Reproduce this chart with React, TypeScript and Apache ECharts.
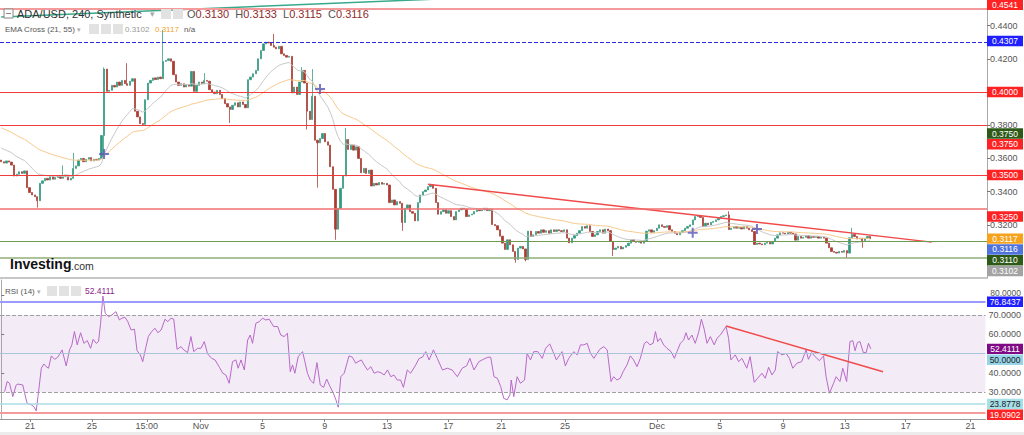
import React, { useEffect, useRef } from 'react';
import * as echarts from 'echarts';

// ---- time slots (4h candles) ----
const SLOT_COUNT = 384;
const xTickSlots = [11.2, 35.3, 56.7, 77.7, 101.8, 126, 150.3, 174.2, 194.8, 219.7, 255.5, 280, 304.6, 328.7, 352.4, 377.7];
const xTickLabels = ['21', '25', '15:00', 'Nov', '5', '9', '13', '17', '21', '25', 'Dec', '5', '9', '13', '17', '21'];

// ---- price data (closes; open = previous close) ----
const firstOpen = 0.359;
const closes = [
  0.3580, 0.3572, 0.3585, 0.3578, 0.3560, 0.3494, 0.3505, 0.3520, 0.3510, 0.3525,
  0.3424, 0.3395, 0.3380, 0.3370, 0.3345, 0.3450, 0.3465, 0.3480, 0.3470, 0.3490,
  0.3475, 0.3485, 0.3495, 0.3480, 0.3490, 0.3500, 0.3470, 0.3480, 0.3540, 0.3555,
  0.3590, 0.3600, 0.3580, 0.3595, 0.3605, 0.3585, 0.3595, 0.3590, 0.3600, 0.3738,
  0.4138, 0.4004, 0.4010, 0.4040, 0.4030, 0.4060, 0.4040, 0.4070, 0.4050, 0.4040,
  0.4065, 0.4080, 0.3884, 0.3850, 0.3810, 0.3805, 0.3954, 0.4054, 0.4070, 0.4085,
  0.4075, 0.4090, 0.4080, 0.4184, 0.4190, 0.4200, 0.4185, 0.4104, 0.4060, 0.4040,
  0.4050, 0.4030, 0.4045, 0.4035, 0.4124, 0.4004, 0.4040, 0.4060, 0.4050, 0.4070,
  0.4065, 0.4014, 0.4000, 0.3990, 0.4010, 0.3985, 0.3960, 0.3930, 0.3910, 0.3895,
  0.3920, 0.3935, 0.3910, 0.3940, 0.3925, 0.3905, 0.4074, 0.4090, 0.4110, 0.4130,
  0.4200, 0.4250, 0.4290, 0.4300, 0.4295, 0.4280, 0.4270, 0.4260, 0.4275, 0.4230,
  0.4220, 0.4210, 0.4215, 0.3994, 0.4030, 0.3985, 0.4060, 0.4130, 0.4054, 0.3884,
  0.3834, 0.3974, 0.3710, 0.3694, 0.3720, 0.3750, 0.3700, 0.3680, 0.3550, 0.3414,
  0.3174, 0.3300, 0.3420, 0.3494, 0.3714, 0.3654, 0.3680, 0.3650, 0.3670, 0.3600,
  0.3514, 0.3540, 0.3510, 0.3530, 0.3434, 0.3450, 0.3440, 0.3455, 0.3445, 0.3450,
  0.3440, 0.3334, 0.3350, 0.3320, 0.3340, 0.3330, 0.3214, 0.3300, 0.3320, 0.3280,
  0.3270, 0.3224, 0.3334, 0.3380, 0.3400, 0.3410, 0.3430, 0.3440, 0.3420, 0.3334,
  0.3264, 0.3280, 0.3290, 0.3270, 0.3285, 0.3250, 0.3230, 0.3280, 0.3290, 0.3300,
  0.3295, 0.3250, 0.3260, 0.3265, 0.3280, 0.3290, 0.3285, 0.3290, 0.3300, 0.3285,
  0.3295, 0.3202, 0.3195, 0.3170, 0.3132, 0.3090, 0.3052, 0.3110, 0.3080, 0.3040,
  0.2992, 0.3060, 0.3070, 0.3055, 0.2992, 0.3162, 0.3130, 0.3140, 0.3160, 0.3150,
  0.3170, 0.3155, 0.3165, 0.3150, 0.3170, 0.3160, 0.3170, 0.3165, 0.3160, 0.3170,
  0.3120, 0.3092, 0.3120, 0.3135, 0.3150, 0.3165, 0.3190, 0.3180, 0.3195, 0.3160,
  0.3130, 0.3140, 0.3160, 0.3170, 0.3150, 0.3175, 0.3165, 0.3100, 0.3052, 0.3060,
  0.3070, 0.3055, 0.3065, 0.3075, 0.3090, 0.3110, 0.3100, 0.3095, 0.3100, 0.3090,
  0.3105, 0.3162, 0.3170, 0.3155, 0.3165, 0.3180, 0.3200, 0.3190, 0.3185, 0.3195,
  0.3170, 0.3160, 0.3150, 0.3140, 0.3155, 0.3165, 0.3180, 0.3190, 0.3200, 0.3230,
  0.3250, 0.3255, 0.3245, 0.3190, 0.3210, 0.3200, 0.3215, 0.3220, 0.3230, 0.3240,
  0.3250, 0.3255, 0.3260, 0.3172, 0.3180, 0.3190, 0.3180, 0.3185, 0.3175, 0.3190,
  0.3180, 0.3170, 0.3160, 0.3082, 0.3090, 0.3085, 0.3080, 0.3090, 0.3095, 0.3085,
  0.3100, 0.3120, 0.3140, 0.3152, 0.3150, 0.3145, 0.3155, 0.3150, 0.3145, 0.3108,
  0.3130, 0.3120, 0.3125, 0.3135, 0.3120, 0.3130, 0.3125, 0.3130, 0.3120, 0.3125,
  0.3120, 0.3090, 0.3062, 0.3040, 0.3035, 0.3030, 0.3040, 0.3035, 0.3045, 0.3030,
  0.3122, 0.3142, 0.3130, 0.3115, 0.3120, 0.3105, 0.3120, 0.3130, 0.3116,
];
// visible wicks: [slot, low, high]
const wicks: [number, number | null, number | null][] = [
  [14, 0.3304, null], [24, null, 0.3558], [28, null, 0.3634], [40, 0.36, 0.4148],
  [49, null, 0.4174], [55, 0.3795, null], [63, null, 0.4374], [79, null, 0.4114],
  [89, 0.3814, null], [106, null, 0.435], [117, null, 0.415], [119, 0.3774, null],
  [121, null, 0.4138], [123, 0.3424, null], [130, 0.311, null], [134, null, 0.3784],
  [156, 0.3164, null], [200, 0.2972, null], [204, 0.298, null], [238, 0.3012, null],
  [283, null, 0.3282], [329, 0.3002, null], [331, null, 0.3182], [335, 0.3062, null],
  [338, 0.3115, 0.3133],
];
const ema21Seed = 0.3663;
const ema55Seed = 0.3785;
const crossPoints = [[40, 0.3626], [124, 0.4018], [269, 0.3152], [294, 0.3175]];
const priceTrend = [[166, 0.3444], [362, 0.3096]];
const tealTrend = [[0, 0.4452], [170, 0.456]];
const priceTicks = [0.44, 0.42, 0.4, 0.38, 0.36, 0.34, 0.32];

// ---- RSI (14): [slot, value] ----
const rsiPoints: [number, number][] = [
  [1.3, 30.3], [2.3, 35.5], [3.2, 34.6], [4.5, 27.7], [5.8, 33.7], [6.5, 34.2], [8.4, 33.7], [9.1, 29.4],
  [10.1, 24.2], [11.7, 23.4], [12.7, 22.5], [13.6, 20.3], [14.3, 27.7], [15.6, 42.4], [16.6, 44.6], [17.5, 43.2],
  [18.4, 42.4], [19.5, 48.8], [20.8, 47.0], [22.0, 48.1], [23.7, 51.9], [25.3, 43.6], [26.6, 51.9], [27.5, 54.5],
  [28.5, 61.4], [29.6, 54.5], [30.9, 60.8], [32.2, 55.3], [33.5, 56.7], [34.8, 52.7], [35.8, 57.4], [37.0, 55.3],
  [37.9, 56.2], [38.7, 65.7], [39.6, 79.8], [40.5, 70.9], [41.8, 69.1], [43.1, 70.0], [44.7, 71.7], [46.0, 67.4],
  [47.0, 68.3], [48.2, 68.8], [49.3, 66.5], [50.6, 62.2], [51.9, 62.6], [52.9, 51.5], [54.2, 49.3], [55.1, 45.8],
  [56.4, 53.6], [57.3, 58.8], [58.6, 61.4], [59.9, 63.1], [61.0, 60.8], [62.3, 62.2], [63.8, 67.8], [64.9, 66.5],
  [66.1, 68.3], [67.2, 67.8], [68.5, 52.2], [70.0, 53.6], [71.1, 51.9], [72.6, 50.5], [73.9, 58.8], [75.0, 51.0],
  [76.5, 52.7], [77.8, 52.7], [79.1, 56.2], [80.4, 49.8], [82.0, 47.5], [83.3, 46.7], [85.0, 42.9], [86.3, 39.8],
  [87.5, 38.9], [88.8, 34.6], [90.1, 45.8], [91.4, 46.7], [92.3, 42.4], [93.4, 46.7], [94.7, 41.5], [96.0, 57.0],
  [97.0, 59.6], [97.9, 55.3], [99.2, 65.7], [100.5, 66.5], [101.8, 68.3], [103.1, 67.4], [104.4, 67.8], [106.1, 64.0],
  [107.7, 64.0], [108.9, 59.6], [110.2, 58.8], [111.5, 60.5], [112.6, 40.6], [113.5, 44.1], [114.4, 39.8], [115.7, 48.4],
  [117.4, 51.0], [118.3, 45.8], [119.3, 39.8], [120.4, 36.3], [121.7, 34.6], [123.0, 45.3], [124.3, 33.7], [125.6, 32.5],
  [126.8, 36.8], [128.1, 32.9], [129.4, 29.4], [130.4, 26.0], [131.3, 22.2], [132.3, 38.0], [133.6, 39.8], [135.5, 48.8],
  [136.8, 48.1], [138.1, 45.0], [139.0, 45.8], [140.3, 46.7], [141.4, 44.1], [142.7, 41.5], [144.0, 43.2], [145.3, 39.8],
  [146.6, 40.6], [147.9, 40.1], [149.2, 38.9], [150.5, 41.5], [151.8, 38.0], [153.0, 38.9], [154.3, 36.3], [155.6, 36.3],
  [156.7, 32.5], [158.2, 41.5], [159.5, 39.8], [161.5, 44.1], [162.8, 47.5], [164.1, 48.1], [165.4, 51.0], [166.7, 46.7],
  [168.4, 51.9], [169.9, 47.5], [171.9, 41.5], [173.8, 42.4], [175.7, 41.5], [177.7, 38.0], [179.6, 42.4], [181.3, 43.6],
  [182.6, 47.5], [184.2, 41.5], [186.1, 45.8], [187.8, 47.0], [189.6, 48.1], [190.7, 48.1], [192.0, 38.0], [193.3, 37.2],
  [194.6, 32.9], [195.8, 26.8], [197.1, 26.0], [198.2, 28.5], [198.7, 36.3], [199.7, 27.7], [201.0, 38.0], [202.3, 34.6],
  [203.9, 36.3], [204.9, 50.1], [206.2, 46.7], [207.5, 51.0], [209.1, 51.0], [210.8, 47.5], [212.1, 52.7], [213.7, 55.0],
  [215.0, 51.0], [216.3, 46.7], [218.5, 51.0], [219.8, 43.6], [221.1, 47.5], [223.1, 51.0], [224.4, 49.3], [225.7, 54.5],
  [227.0, 54.5], [228.3, 55.3], [229.6, 50.1], [230.9, 47.5], [233.2, 52.2], [234.8, 53.6], [236.1, 51.9], [237.6, 35.5],
  [238.6, 38.0], [239.9, 36.3], [241.2, 37.2], [242.3, 40.6], [243.8, 44.1], [245.1, 48.8], [246.4, 46.7], [247.7, 43.2],
  [249.0, 47.5], [250.6, 55.3], [251.6, 56.2], [252.7, 54.5], [254.0, 55.3], [254.9, 61.4], [255.8, 56.2], [256.8, 57.9],
  [258.1, 54.5], [259.4, 52.7], [261.0, 51.0], [262.3, 47.5], [263.3, 51.0], [264.6, 55.3], [265.9, 57.0], [266.8, 60.8],
  [267.8, 57.0], [269.1, 59.6], [270.4, 55.3], [271.7, 60.8], [272.8, 67.8], [273.9, 62.6], [275.0, 55.3], [276.3, 58.8],
  [277.8, 54.5], [278.9, 57.9], [280.2, 59.6], [281.5, 62.2], [282.4, 64.0], [283.4, 57.9], [284.3, 46.7], [286.0, 49.3],
  [287.3, 45.8], [288.6, 47.5], [290.5, 42.4], [291.8, 48.4], [293.4, 35.1], [294.7, 37.2], [296.4, 39.8], [297.7, 37.2],
  [299.0, 42.9], [300.3, 38.9], [301.6, 41.5], [302.5, 51.0], [304.2, 49.3], [305.8, 50.1], [307.1, 47.5], [308.4, 42.4],
  [310.0, 45.0], [311.9, 45.8], [313.6, 51.9], [314.5, 47.0], [315.8, 50.5], [317.1, 48.4], [318.8, 46.3], [320.4, 48.8],
  [321.4, 38.0], [322.7, 29.4], [324.3, 34.6], [325.3, 38.0], [326.8, 35.5], [327.9, 42.4], [329.4, 35.5], [330.7, 56.2],
  [331.8, 56.7], [332.7, 51.5], [333.6, 55.7], [334.6, 56.2], [335.9, 50.5], [337.0, 50.5], [337.9, 55.3], [338.8, 52.4111],
];
const rsiTrend = [[282.4, 64.3], [343.6, 40.6]];
const rsiTicks = [80, 70, 60, 50, 40, 30];
const rsiTickLabels = [70, 60, 40, 30];
const rsiTopLabel = 80;

// ---- levels & value tags ----
const priceLines = [
  { v: 0.4541, color: '#f59a9a', width: 2, type: 'solid' },
  { v: 0.4307, color: '#2b2bdd', width: 1, type: 'dashed' },
  { v: 0.4, color: '#f23c3c', width: 1, type: 'solid' },
  { v: 0.375, color: '#f23c3c', width: 1, type: 'solid' },
  { v: 0.35, color: '#f23c3c', width: 1, type: 'solid' },
  { v: 0.325, color: '#f27070', width: 1.5, type: 'solid' },
  { v: 0.3116, color: '#6f8ee0', width: 1, type: 'dotted' },
  { v: 0.311, color: '#6f9a50', width: 1, type: 'solid' },
  { v: 0.3, color: '#8fae78', width: 1.5, type: 'solid' },
];
const priceTags = [
  { v: 0.4541, bg: '#ff2222', fg: '#ffffff' },
  { v: 0.4307, bg: '#1f1fff', fg: '#ffffff' },
  { v: 0.4, bg: '#ff2222', fg: '#ffffff' },
  { v: 0.375, bg: '#2e5a18', fg: '#ffffff' },
  { v: 0.375, bg: '#ff2222', fg: '#ffffff' },
  { v: 0.35, bg: '#ff2222', fg: '#ffffff' },
  { v: 0.325, bg: '#ff2222', fg: '#ffffff' },
  { v: 0.3117, bg: '#f7a21b', fg: '#ffffff' },
  { v: 0.3116, bg: '#4f73dc', fg: '#ffffff' },
  { v: 0.311, bg: '#2e5a18', fg: '#ffffff' },
  { v: 0.3102, bg: '#a3a3a3', fg: '#ffffff' },
];
const rsiLines = [
  { v: 76.8437, color: '#9a9aff', width: 2, type: 'solid' },
  { v: 70, color: '#a0a0a0', width: 1, type: 'dashed' },
  { v: 50, color: '#aac4dc', width: 1, type: 'solid' },
  { v: 30, color: '#a0a0a0', width: 1, type: 'dashed' },
  { v: 23.8778, color: '#a8dde6', width: 1.5, type: 'solid' },
  { v: 19.0902, color: '#f59a9a', width: 2, type: 'solid' },
];
const rsiTags = [
  { v: 76.8437, bg: '#1f1fff', fg: '#ffffff' },
  { v: 52.4111, bg: '#800a86', fg: '#ffffff' },
  { v: 50, bg: '#96d4e8', fg: '#1a1a1a' },
  { v: 23.8778, bg: '#a5dfe8', fg: '#1a1a1a' },
  { v: 19.0902, bg: '#ff2222', fg: '#ffffff' },
];

const FONT = 'Liberation Sans, Arial, sans-serif';

export default function App() {
  const ref = useRef<HTMLDivElement>(null);
  useEffect(() => {
    if (!ref.current) return;
    const chart = echarts.init(ref.current, null, { renderer: 'svg' });
    const cats = Array.from({ length: SLOT_COUNT }, (_, i) => String(i));
    const wickMap = new Map<number, [number | null, number | null]>();
    wicks.forEach(([s, l, h]) => wickMap.set(s, [l, h]));
    const candles = closes.map((c, i) => {
      const o = i === 0 ? firstOpen : closes[i - 1];
      let lo = Math.min(o, c);
      let hi = Math.max(o, c);
      const w = wickMap.get(i);
      if (w) {
        if (w[0] != null) lo = Math.min(lo, w[0]);
        if (w[1] != null) hi = Math.max(hi, w[1]);
      }
      return [o, c, lo, hi];
    });
    const ema = (seed: number, n: number) => {
      const a = 2 / (n + 1);
      let e = seed;
      return closes.map((c, i) => {
        if (i > 0) e = e + a * (c - e);
        return +e.toFixed(5);
      });
    };
    const ema21 = ema(ema21Seed, 21);
    const ema55 = ema(ema55Seed, 55);

    const mk = (arr: any[]) => ({
      silent: true,
      symbol: ['none', 'none'],
      label: { show: false },
      data: arr.map((l) => ({ yAxis: l.v, lineStyle: { color: l.color, width: l.width, type: l.type } })),
    });

    const option: any = {
      animation: false,
      backgroundColor: '#ffffff',
      textStyle: { fontFamily: FONT },
      grid: [
        { left: 0, right: 37, top: 0, height: 278 },
        { left: 0, right: 37, top: 280, height: 139 },
      ],
      xAxis: [
        {
          type: 'category', gridIndex: 0, data: cats, boundaryGap: true,
          axisLine: { show: true, lineStyle: { color: '#b5b5b5', width: 1.5 } },
          axisTick: { show: false }, axisLabel: { show: false }, splitLine: { show: false },
        },
        {
          type: 'value', gridIndex: 1, min: -0.5, max: SLOT_COUNT - 0.5,
          axisLine: { show: true, lineStyle: { color: '#999999' } },
          axisTick: { show: true, length: 3, customValues: xTickSlots, lineStyle: { color: '#888' } },
          axisLabel: {
            show: true, customValues: xTickSlots, color: '#555', fontSize: 9, margin: 2, fontFamily: FONT,
            formatter: (v: number) => {
              const i = xTickSlots.findIndex((s) => Math.abs(s - v) < 0.01);
              return i >= 0 ? xTickLabels[i] : '';
            },
          },
          splitLine: { show: false },
        },
      ],
      yAxis: [
        {
          type: 'value', gridIndex: 0, position: 'right', min: 0.288, max: 0.4554,
          axisLine: { show: true, lineStyle: { color: '#aaaaaa' } },
          axisTick: { show: true, length: 3, customValues: priceTicks, lineStyle: { color: '#777' } },
          axisLabel: { show: true, customValues: priceTicks, color: '#555', fontSize: 9, margin: 3, fontFamily: FONT, formatter: (v: number) => v.toFixed(4) },
          splitLine: { show: false },
        },
        {
          type: 'value', gridIndex: 1, position: 'right', min: 16.1, max: 88.1,
          axisLine: { show: true, lineStyle: { color: '#aaaaaa' } },
          axisTick: { show: true, length: 3, customValues: rsiTicks, lineStyle: { color: '#777' } },
          axisLabel: { show: true, customValues: rsiTickLabels, color: '#555', fontSize: 9, margin: 3, fontFamily: FONT, formatter: (v: number) => v.toFixed(4) },
          splitLine: { show: false },
        },
      ],
      series: [
        {
          type: 'candlestick', xAxisIndex: 0, yAxisIndex: 0, data: candles, barWidth: 1.8,
          itemStyle: { color: '#2b9c7e', color0: '#b3392f', borderColor: '#3c9c84', borderColor0: '#a8433a', borderWidth: 0.8 },
          markLine: mk(priceLines),
        },
        { type: 'line', xAxisIndex: 0, yAxisIndex: 0, data: ema21, showSymbol: false, lineStyle: { color: '#c8c8c8', width: 1 }, silent: true },
        { type: 'line', xAxisIndex: 0, yAxisIndex: 0, data: ema55, showSymbol: false, lineStyle: { color: '#f8c98c', width: 1 }, silent: true },
        { type: 'line', xAxisIndex: 0, yAxisIndex: 0, data: priceTrend, showSymbol: false, lineStyle: { color: '#f04a4a', width: 1.5 }, silent: true },
        { type: 'line', xAxisIndex: 0, yAxisIndex: 0, data: tealTrend, showSymbol: false, lineStyle: { color: '#3aa88c', width: 1.5 }, silent: true },
        {
          type: 'scatter', xAxisIndex: 0, yAxisIndex: 0, data: crossPoints, silent: true,
          symbol: 'path://M4 0h2v4h4v2h-4v4h-2v-4h-4v-2h4z', symbolSize: [10, 10],
          itemStyle: { color: '#5656b8' }, z: 5,
        },
        {
          type: 'line', xAxisIndex: 1, yAxisIndex: 1, data: rsiPoints, showSymbol: false, silent: true,
          lineStyle: { color: '#b869c8', width: 1 },
          markArea: { silent: true, itemStyle: { color: 'rgba(170, 110, 190, 0.14)' }, data: [[{ yAxis: 30 }, { yAxis: 70 }]] },
          markLine: mk(rsiLines),
        },
        { type: 'line', xAxisIndex: 1, yAxisIndex: 1, data: rsiTrend, showSymbol: false, lineStyle: { color: '#f04a4a', width: 1.5 }, silent: true },
      ],
    };
    chart.setOption(option);

    const tags = (list: any[], axis: number) => {
      const items = list.map((t, i) => ({ ...t, i, y: chart.convertToPixel({ yAxisIndex: axis } as any, t.v) as number }));
      items.sort((a, b) => (a.y - b.y) || (a.i - b.i));
      const out: any[] = [];
      let prev = -100;
      items.forEach((t) => {
        const y = Math.max(t.y, prev + 10.8, 4.8);
        prev = y;
        out.push({
          type: 'rect', shape: { x: 987, y: y - 5.2, width: 36, height: 10.4 }, style: { fill: t.bg }, z: 100,
        });
        out.push({
          type: 'text', x: 1005, y, z: 101,
          style: { text: t.v.toFixed(4), fill: t.fg, font: `8.5px ${FONT}`, lineHeight: 9, align: 'center', verticalAlign: 'middle' },
        });
      });
      return out;
    };

    const txt = (x: number, y: number, text: string, fill: string, size: number, weight = 'normal') => ({
      type: 'text', x, y, z: 100,
      style: { text, fill, font: `${weight} ${size}px ${FONT}`, verticalAlign: 'middle' },
    });
    const icon = (x: number, y: number) => ({ type: 'rect', shape: { x, y, width: 10, height: 10 }, style: { fill: '#e2e2e2' }, z: 100 });

    const y80 = chart.convertToPixel({ yAxisIndex: 1 } as any, rsiTopLabel) as number;

    const graphics: any[] = [
      ...tags(priceTags, 0),
      ...tags(rsiTags, 1),
      {
        type: 'text', x: 1021, y: y80 - 2.5, z: 99,
        style: { text: rsiTopLabel.toFixed(4), fill: '#555', font: `8.5px ${FONT}`, lineHeight: 8, align: 'right', verticalAlign: 'middle' },
      },
      { type: 'rect', shape: { x: 0, y: 432, width: 1024, height: 3 }, style: { fill: '#ececec' }, z: 90 },
      { type: 'rect', shape: { x: 4, y: 9, width: 9, height: 9 }, style: { fill: '#fff', stroke: '#888', lineWidth: 1 }, z: 100 },
      { type: 'line', shape: { x1: 6, y1: 13.5, x2: 11, y2: 13.5 }, style: { stroke: '#888', lineWidth: 1 }, z: 101 },
      txt(17, 14, 'ADA/USD, 240, Synthetic', '#333', 11),
      txt(150, 14, '▾', '#aaa', 9),
      icon(161, 9), icon(173, 9),
      {
        type: 'text', x: 187, y: 14, z: 100,
        style: {
          text: '{l|O}{v|0.3130}  {l|H}{v|0.3133}  {l|L}{v|0.3115}  {l|C}{v|0.3116}', verticalAlign: 'middle',
          font: `11px ${FONT}`,
          rich: { l: { fill: '#555', font: `11px ${FONT}` }, v: { fill: '#8e2b2b', font: `11px ${FONT}` } },
        },
      },
      txt(5, 29, 'EMA Cross (21, 55)', '#555', 8),
      txt(77, 29, '▾', '#aaa', 7),
      icon(89, 24), icon(101, 24), icon(113, 24),
      txt(125, 29, '0.3102', '#999', 8),
      txt(155, 29, '0.3117', '#f5a21e', 8),
      txt(184, 29, 'n/a', '#555', 8),
      txt(5, 291, 'RSI (14)', '#555', 8),
      txt(37, 291, '▾', '#aaa', 7),
      icon(47, 286), icon(59, 286), icon(71, 286),
      txt(85, 291, '52.4111', '#8b1a8b', 8.5),
      txt(10, 264, 'Investing', '#111', 14, 'bold'),
      txt(71, 266, '.com', '#333', 10.5),
    ];
    chart.setOption({ graphic: graphics });

    return () => chart.dispose();
  }, []);
  return <div ref={ref} style={{ position: 'fixed', left: 0, top: 0, width: 1024, height: 435 }} />;
}
